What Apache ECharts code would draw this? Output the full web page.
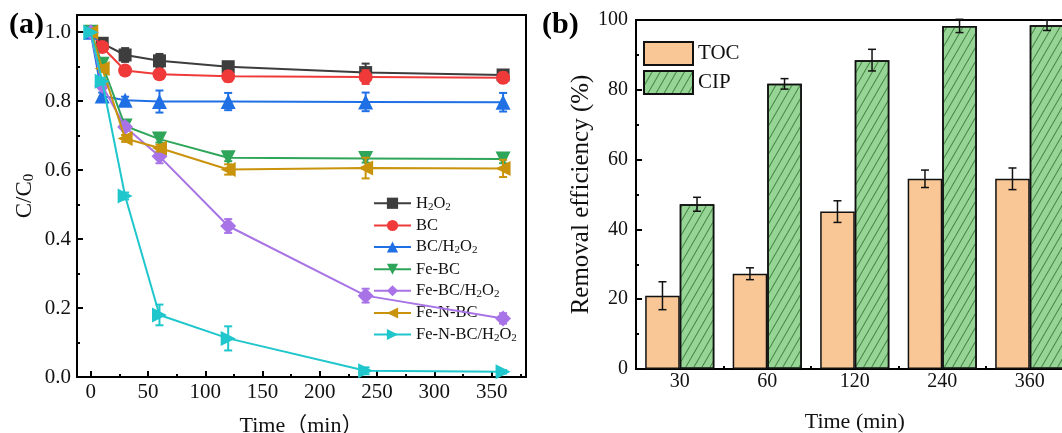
<!DOCTYPE html>
<html>
<head>
<meta charset="utf-8">
<script src="https://cdn.jsdelivr.net/npm/echarts@6/dist/echarts.min.js"></script>
<style>
html,body{margin:0;padding:0;background:#fff;}
#c{width:1062px;height:433px;}
</style>
</head>
<body>
<div id="c"></div>
<script>
// ---- Panel (a) data ----
const times = [0, 10, 30, 60, 120, 240, 360];
const seriesNames = ['H2O2', 'BC', 'BC/H2O2', 'Fe-BC', 'Fe-BC/H2O2', 'Fe-N-BC', 'Fe-N-BC/H2O2'];
const h2o2      = [1.0, 0.968, 0.934, 0.917, 0.900, 0.883, 0.876];
const bc        = [1.0, 0.957, 0.889, 0.878, 0.872, 0.870, 0.868];
const bcH2o2    = [1.0, 0.815, 0.803, 0.799, 0.799, 0.798, 0.797];
const feBc      = [1.0, 0.907, 0.728, 0.690, 0.636, 0.634, 0.632];
const feBcH2o2  = [1.0, 0.845, 0.725, 0.640, 0.438, 0.236, 0.170];
const feNBc     = [1.0, 0.895, 0.692, 0.664, 0.602, 0.606, 0.605];
const feNBcH2o2 = [1.0, 0.858, 0.525, 0.180, 0.112, 0.018, 0.015];
const h2o2Err      = [0, 0.010, 0.020, 0.020, 0.012, 0.026, 0.012];
const bcErr        = [0, 0.010, 0.010, 0.010, 0.015, 0.020, 0.015];
const bcH2o2Err    = [0, 0.010, 0.010, 0.032, 0.025, 0.027, 0.027];
const feBcErr      = [0, 0.010, 0.010, 0.010, 0.010, 0.012, 0.012];
const feBcH2o2Err  = [0, 0.010, 0.010, 0.020, 0.020, 0.020, 0.015];
const feNBcErr     = [0, 0.010, 0.010, 0.010, 0.015, 0.030, 0.025];
const feNBcH2o2Err = [0, 0.010, 0.010, 0.030, 0.035, 0.010, 0.005];
const xMajorTicks = [0, 50, 100, 150, 200, 250, 300, 350];
const xMinorTicks = [25, 75, 125, 175, 225, 275, 325, 375];

// ---- Panel (b) data ----
const cats = ['30', '60', '120', '240', '360'];
const toc    = [21.0, 27.3, 45.1, 54.5, 54.5];
const tocErr = [4.0, 1.7, 3.1, 2.5, 3.1];
const cip    = [47.2, 81.7, 88.5, 98.3, 98.5];
const cipErr = [2.0, 1.5, 3.1, 1.9, 1.5];

const SERIF = '"Liberation Serif", "Times New Roman", "Noto Sans CJK SC", serif';

const lineValues = [h2o2, bc, bcH2o2, feBc, feBcH2o2, feNBc, feNBcH2o2];
const lineErrs = [h2o2Err, bcErr, bcH2o2Err, feBcErr, feBcH2o2Err, feNBcErr, feNBcH2o2Err];
const lineColors = ['#3d3d3d', '#f03a3a', '#1f6fe5', '#2fa55a', '#a873e6', '#c9930c', '#1fc6cc'];
const lineSymbols = ['rect', 'circle', 'triangle', 'triangle', 'diamond', 'triangle', 'triangle'];
const lineRot = [0, 0, 0, 180, 0, 90, -90];
const lineSizes = [13, 14, 15, 15, 16, 15, 15];

function subFmt(name) {
  return name.replace(/[^2]+/g, m => '{n|' + m + '}').replace(/2/g, '{s|2}');
}

const series = [];
lineValues.forEach((vals, k) => {
  series.push({
    name: seriesNames[k],
    type: 'line',
    xAxisIndex: 0, yAxisIndex: 0,
    data: times.map((t, i) => [t, vals[i]]),
    symbol: lineSymbols[k],
    symbolRotate: lineRot[k],
    symbolSize: lineSizes[k],
    lineStyle: { color: lineColors[k], width: 2 },
    itemStyle: { color: lineColors[k] },
    z: 3 + k
  });
  series.push({
    name: seriesNames[k] + '_err',
    type: 'custom',
    xAxisIndex: 0, yAxisIndex: 0,
    data: times.map((t, i) => [t, vals[i], lineErrs[k][i]]),
    z: 3 + k,
    silent: true,
    renderItem: function (params, api) {
      const x = api.value(0), y = api.value(1), e = api.value(2);
      if (!e) return null;
      const p1 = api.coord([x, y + e]);
      const p2 = api.coord([x, y - e]);
      const hw = 4;
      const st = { stroke: lineColors[k], lineWidth: 2 };
      return { type: 'group', children: [
        { type: 'line', shape: { x1: p1[0], y1: p1[1], x2: p2[0], y2: p2[1] }, style: st },
        { type: 'line', shape: { x1: p1[0] - hw, y1: p1[1], x2: p1[0] + hw, y2: p1[1] }, style: st },
        { type: 'line', shape: { x1: p2[0] - hw, y1: p2[1], x2: p2[0] + hw, y2: p2[1] }, style: st }
      ]};
    }
  });
});

const BAR_FRAC = 0.395;
series.push({
  name: 'TOC', type: 'bar', xAxisIndex: 2, yAxisIndex: 2,
  data: toc, barGap: '0%', barCategoryGap: '21%',
  itemStyle: { color: '#f9c795', borderColor: '#111', borderWidth: 1.5 }
});
series.push({
  name: 'CIP', type: 'bar', xAxisIndex: 2, yAxisIndex: 2,
  data: cip, barGap: '0%', barCategoryGap: '21%',
  itemStyle: {
    color: '#96d596', borderColor: '#111', borderWidth: 1.5,
    decal: { symbol: 'rect', symbolSize: 1, dashArrayX: [1, 0], dashArrayY: [1, 6], rotation: -Math.PI / 3, color: 'rgba(40,105,40,0.75)' }
  }
});
function barErr(vals, errs, sign) {
  return {
    name: 'err' + sign, type: 'custom', xAxisIndex: 2, yAxisIndex: 2, silent: true, z: 5,
    data: vals.map((v, i) => [i, v, errs[i]]),
    renderItem: function (params, api) {
      const i = api.value(0), y = api.value(1), e = api.value(2);
      const band = api.size([1, 0])[0];
      const off = sign * band * BAR_FRAC / 2;
      const p1 = api.coord([i, y + e]);
      const p2 = api.coord([i, y - e]);
      const x = p1[0] + off;
      const hw = 4;
      const st = { stroke: '#111', lineWidth: 1.5 };
      return { type: 'group', children: [
        { type: 'line', shape: { x1: x, y1: p1[1], x2: x, y2: p2[1] }, style: st },
        { type: 'line', shape: { x1: x - hw, y1: p1[1], x2: x + hw, y2: p1[1] }, style: st },
        { type: 'line', shape: { x1: x - hw, y1: p2[1], x2: x + hw, y2: p2[1] }, style: st }
      ]};
    }
  };
}
series.push(barErr(toc, tocErr, -1));
series.push(barErr(cip, cipErr, 1));

const axisLine = { show: true, onZero: false, lineStyle: { color: '#000', width: 2 } };
const labelA = { color: '#111', fontFamily: SERIF, fontSize: 21 };

const option = {
  backgroundColor: '#fff',
  animation: false,
  title: [
    { text: '(a)', left: 9, top: 10, padding: 0, textStyle: { fontFamily: SERIF, fontWeight: 'bold', fontSize: 30, color: '#000' } },
    { text: '(b)', left: 542, top: 10, padding: 0, textStyle: { fontFamily: SERIF, fontWeight: 'bold', fontSize: 30, color: '#000' } }
  ],
  grid: [
    { left: 77, top: 15, right: 536, bottom: 56, show: true, borderColor: '#000', borderWidth: 2, containLabel: false, outerBoundsMode: 'none' },
    { left: 636, top: 20, width: 437.5, height: 349, show: true, borderColor: '#000', borderWidth: 2, containLabel: false, outerBoundsMode: 'none' }
  ],
  xAxis: [
    { type: 'value', gridIndex: 0, min: -12, max: 380,
      axisLine: axisLine, splitLine: { show: false },
      axisTick: { show: true, inside: true, length: 3, customValues: xMinorTicks, lineStyle: { color: '#000', width: 2 } },
      axisLabel: { show: false } },
    { type: 'value', gridIndex: 0, min: -12, max: 380, position: 'bottom',
      axisLine: axisLine, splitLine: { show: false },
      axisTick: { show: true, inside: true, length: 6, customValues: xMajorTicks, lineStyle: { color: '#000', width: 2 } },
      axisLabel: Object.assign({ margin: 5, customValues: xMajorTicks }, labelA),
      name: 'Time（min）', nameLocation: 'middle', nameGap: 38,
      nameTextStyle: { fontFamily: SERIF, fontSize: 22, color: '#111' } },
    { type: 'category', gridIndex: 1, data: cats,
      axisLine: axisLine, splitLine: { show: false },
      axisTick: { show: true, inside: true, length: 3, lineStyle: { color: '#000', width: 2 } },
      axisLabel: { color: '#111', fontFamily: SERIF, fontSize: 20, margin: 3 },
      name: 'Time (min)', nameLocation: 'middle', nameGap: 42,
      nameTextStyle: { fontFamily: SERIF, fontSize: 22, color: '#111' } }
  ],
  yAxis: [
    { type: 'value', gridIndex: 0, min: 0, max: 1.05, interval: 0.1,
      axisLine: axisLine, splitLine: { show: false },
      axisTick: { show: true, inside: true, length: 3, lineStyle: { color: '#000', width: 2 } },
      axisLabel: { show: false } },
    { type: 'value', gridIndex: 0, min: 0, max: 1.05, interval: 0.2, position: 'left',
      axisLine: axisLine, splitLine: { show: false },
      axisTick: { show: true, inside: true, length: 6, lineStyle: { color: '#000', width: 2 } },
      axisLabel: Object.assign({ margin: 6, showMaxLabel: false, formatter: v => (Math.abs(v * 5 - Math.round(v * 5)) < 1e-6 ? v.toFixed(1) : '') }, labelA),
      name: '{n|C/C}{s|0}', nameLocation: 'middle', nameGap: 40,
      nameTextStyle: { color: '#111', rich: {
        n: { fontFamily: SERIF, fontSize: 23, color: '#111', lineHeight: 24 },
        s: { fontFamily: SERIF, fontSize: 15, color: '#111', lineHeight: 12, verticalAlign: 'bottom' } } } },
    { type: 'value', gridIndex: 1, min: 0, max: 100, interval: 20,
      axisLine: axisLine, splitLine: { show: false },
      axisTick: { show: true, inside: true, length: 6, lineStyle: { color: '#000', width: 2 } },
      minorTick: { show: true, splitNumber: 2, length: 3, lineStyle: { color: '#000', width: 2 } },
      axisLabel: { color: '#111', fontFamily: SERIF, fontSize: 20, margin: 8 },
      name: 'Removal efficiency (%)', nameLocation: 'middle', nameGap: 42,
      nameTextStyle: { fontFamily: SERIF, fontSize: 25, color: '#111' } }
  ],
  legend: [
    { data: seriesNames, orient: 'vertical', left: 373, top: 195, padding: 0,
      itemWidth: 37, itemHeight: 14, itemGap: 5,
      formatter: subFmt,
      textStyle: { color: '#111', rich: {
        n: { fontFamily: SERIF, fontSize: 16.5, color: '#111', lineHeight: 18 },
        s: { fontFamily: SERIF, fontSize: 11, color: '#111', lineHeight: 9, verticalAlign: 'bottom' } } } },
    { data: ['TOC', 'CIP'], orient: 'vertical', left: 643, top: 41, padding: 0,
      icon: 'rect', itemWidth: 49, itemHeight: 23, itemGap: 4,
      textStyle: { fontFamily: SERIF, fontSize: 21, color: '#111' } }
  ],
  series: series
};

const chart = echarts.init(document.getElementById('c'), null, { renderer: 'canvas' });
chart.setOption(option);
</script>
</body>
</html>
